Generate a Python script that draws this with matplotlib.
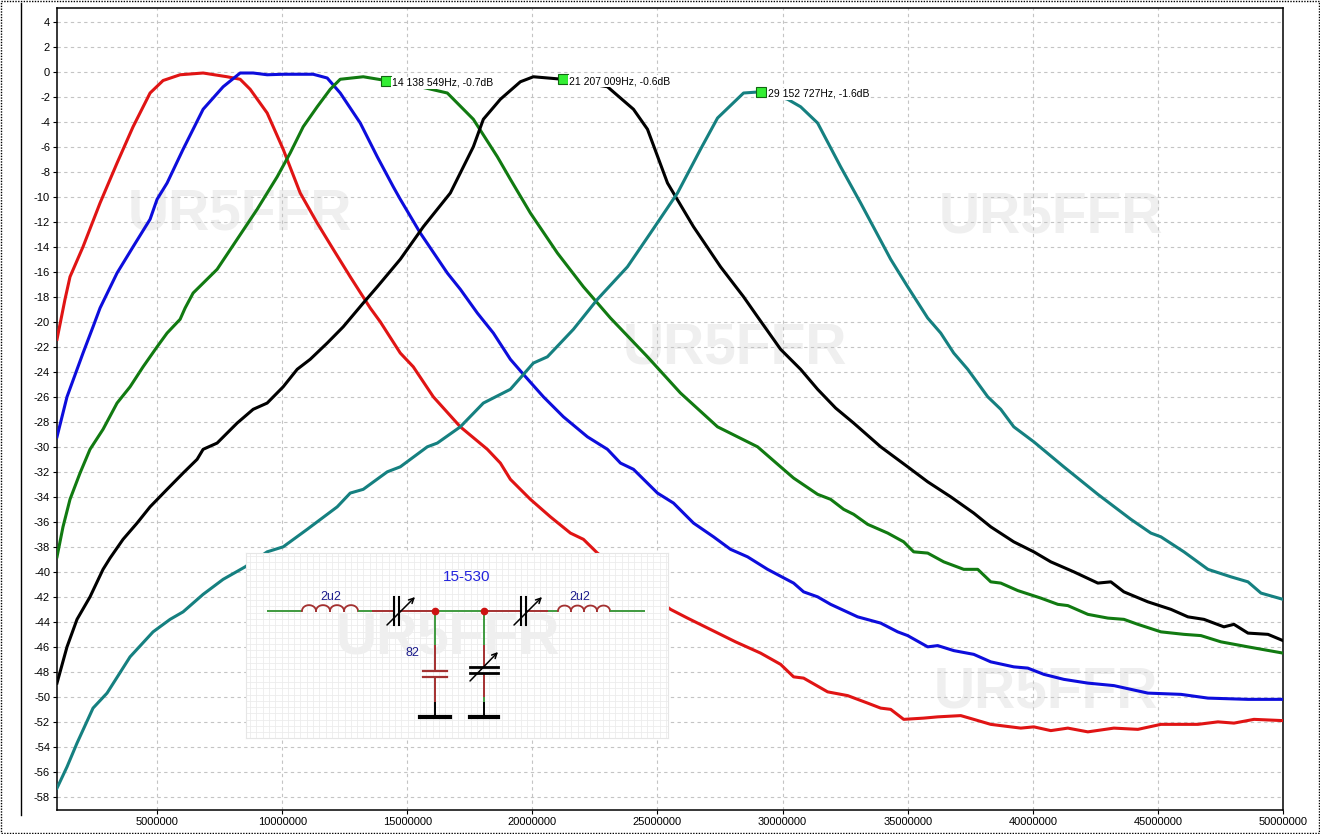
"""
plot.py - five-band tuned filter sweep (15-530 preselector), gain vs frequency,
with marker readouts and the schematic pasted in as an inset.
"""

import numpy as np
import matplotlib
matplotlib.use("Agg")
import matplotlib.pyplot as plt
from matplotlib.lines import Line2D
from matplotlib.patches import Rectangle

# sweep traces: frequency (MHz) / response (dB)
RED_MHZ = [1.0, 1.32, 1.52, 2.04, 2.72, 3.4, 4.04, 4.72, 5.24, 5.92, 6.84, 7.8, 8.32, 8.72,
           9.4, 10.04, 10.72, 11.4, 12.04, 12.72, 13.52, 13.92, 14.72, 15.24, 16.04, 17.12,
           18.2, 18.72, 19.12, 19.92, 20.72, 21.52, 22.04, 22.6, 25.52, 26.2, 28.12, 29.12,
           29.92, 30.44, 30.84, 31.8, 32.6, 33.4, 33.92, 34.32, 34.84, 35.64, 36.2, 37.12,
           37.64, 38.32, 39.52, 40.04, 40.72, 41.4, 42.2, 43.24, 44.2, 45.12, 46.6, 47.4,
           48.04, 48.84, 50.0]
RED_DB = [-21.4, -18.2, -16.4, -14.0, -10.5, -7.3, -4.4, -1.7, -0.7, -0.24, -0.1, -0.4, -0.6,
          -1.4, -3.3, -6.2, -9.7, -12.1, -14.2, -16.4, -18.9, -20.0, -22.5, -23.6, -26.0,
          -28.4, -30.2, -31.3, -32.6, -34.2, -35.6, -36.9, -37.4, -38.5, -43.0, -43.7, -45.6,
          -46.5, -47.4, -48.4, -48.5, -49.6, -49.9, -50.5, -50.9, -51.0, -51.8, -51.7, -51.6,
          -51.5, -51.8, -52.2, -52.5, -52.4, -52.7, -52.5, -52.8, -52.5, -52.6, -52.2, -52.2,
          -52.0, -52.1, -51.8, -51.9]

BLUE_MHZ = [1.0, 1.4, 2.04, 2.44, 2.72, 3.4, 4.04, 4.72, 5.0, 5.4, 6.04, 6.84, 7.64, 8.32,
            8.84, 9.4, 10.04, 11.24, 11.8, 12.32, 13.12, 13.8, 14.44, 14.72, 15.52, 16.6,
            17.12, 17.8, 18.44, 19.12, 19.64, 20.44, 21.24, 22.2, 23.0, 23.52, 24.04, 25.0,
            25.64, 26.44, 27.24, 27.92, 28.6, 29.4, 30.44, 30.84, 31.4, 31.92, 33.0, 33.92,
            34.6, 35.0, 35.8, 36.2, 36.84, 37.64, 38.32, 39.24, 39.8, 40.44, 41.24, 42.2,
            43.24, 44.6, 45.92, 47.0, 48.6, 50.0]
BLUE_DB = [-29.2, -26.0, -22.5, -20.4, -18.9, -16.1, -14.0, -11.8, -10.2, -8.9, -6.2, -3.0,
           -1.2, -0.1, -0.1, -0.24, -0.2, -0.2, -0.5, -1.7, -4.1, -6.8, -9.2, -10.2, -12.9,
           -16.1, -17.4, -19.3, -20.9, -23.0, -24.2, -26.0, -27.6, -29.2, -30.2, -31.3, -31.8,
           -33.7, -34.5, -36.1, -37.2, -38.2, -38.8, -39.8, -40.9, -41.6, -42.0, -42.6, -43.6,
           -44.1, -44.8, -45.1, -46.0, -45.9, -46.3, -46.6, -47.2, -47.6, -47.7, -48.2, -48.6,
           -48.9, -49.1, -49.7, -49.8, -50.1, -50.2, -50.2]

GREEN_MHZ = [1.0, 1.24, 1.52, 1.92, 2.32, 2.84, 3.4, 3.92, 4.44, 5.0, 5.4, 5.92, 6.12, 6.44,
             7.4, 8.2, 9.0, 9.8, 10.32, 10.84, 11.4, 11.92, 12.32, 13.24, 14.14, 15.52, 16.6,
             17.64, 18.6, 19.12, 19.92, 21.0, 22.04, 23.12, 24.6, 25.92, 27.4, 29.0, 29.92,
             30.44, 31.4, 31.92, 32.44, 32.84, 33.4, 34.2, 34.84, 35.24, 35.8, 36.44, 37.24,
             37.8, 38.32, 38.72, 39.4, 40.32, 41.0, 41.4, 42.2, 43.0, 43.64, 44.2, 45.12,
             46.04, 46.72, 47.52, 48.6, 50.0]
GREEN_DB = [-38.8, -36.4, -34.2, -32.1, -30.2, -28.6, -26.5, -25.2, -23.6, -22.0, -20.9, -19.8,
            -18.9, -17.7, -15.8, -13.4, -11.0, -8.4, -6.5, -4.4, -2.8, -1.4, -0.6, -0.4, -0.7,
            -1.2, -1.7, -3.8, -6.8, -8.6, -11.3, -14.5, -17.2, -19.7, -22.8, -25.7, -28.4,
            -30.0, -31.6, -32.5, -33.8, -34.2, -35.0, -35.4, -36.2, -36.9, -37.6, -38.4, -38.5,
            -39.2, -39.8, -39.8, -40.8, -40.9, -41.5, -42.1, -42.6, -42.7, -43.4, -43.7, -43.8,
            -44.2, -44.8, -45.0, -45.1, -45.6, -46.0, -46.5]

BLACK_MHZ = [1.0, 1.4, 1.8, 2.32, 2.84, 3.12, 3.64, 4.2, 4.72, 5.4, 6.04, 6.6, 6.84, 7.4, 8.2,
             8.84, 9.4, 10.04, 10.6, 11.12, 11.8, 12.44, 13.24, 13.8, 14.72, 15.64, 16.72,
             17.64, 18.04, 18.72, 19.52, 20.04, 21.21, 23.0, 24.04, 24.6, 25.4, 26.44, 27.52,
             28.44, 29.0, 29.92, 30.72, 31.4, 32.12, 32.84, 33.92, 35.0, 35.8, 36.72, 37.64,
             38.32, 39.24, 40.04, 40.72, 41.64, 42.6, 43.12, 43.64, 44.6, 45.52, 46.2, 46.84,
             47.64, 48.04, 48.6, 49.4, 50.0]
BLACK_DB = [-48.9, -46.0, -43.8, -42.0, -39.8, -38.9, -37.4, -36.1, -34.8, -33.4, -32.1, -31.0,
            -30.2, -29.7, -28.1, -27.0, -26.5, -25.2, -23.8, -23.0, -21.7, -20.4, -18.5, -17.2,
            -15.0, -12.4, -9.7, -6.0, -3.8, -2.2, -0.8, -0.4, -0.6, -1.2, -3.0, -4.6, -8.9,
            -12.4, -15.6, -18.0, -19.6, -22.2, -23.8, -25.4, -26.9, -28.1, -30.0, -31.6, -32.8,
            -34.0, -35.3, -36.4, -37.6, -38.4, -39.2, -40.0, -40.9, -40.8, -41.6, -42.4, -43.0,
            -43.6, -43.8, -44.4, -44.2, -44.9, -45.0, -45.5]

TEAL_MHZ = [1.0, 1.4, 1.8, 2.44, 3.0, 3.92, 4.84, 5.52, 6.04, 6.84, 7.64, 8.52, 9.4, 10.04,
            11.0, 12.2, 12.72, 13.24, 14.2, 14.72, 15.8, 16.2, 17.12, 18.04, 19.12, 20.04,
            20.6, 21.64, 22.6, 23.8, 24.72, 25.8, 26.72, 27.4, 28.44, 29.15, 30.2, 30.72, 31.4,
            32.32, 33.12, 34.32, 35.0, 35.8, 36.32, 36.84, 37.4, 38.2, 38.72, 39.24, 40.04,
            41.24, 42.6, 43.92, 44.72, 45.12, 46.04, 47.0, 47.92, 48.6, 49.12, 50.0]
TEAL_DB = [-57.3, -55.6, -53.7, -50.9, -49.7, -46.8, -44.8, -43.8, -43.2, -41.8, -40.6, -39.6,
           -38.4, -38.0, -36.6, -34.8, -33.7, -33.4, -32.0, -31.6, -30.0, -29.7, -28.4, -26.5,
           -25.4, -23.3, -22.8, -20.6, -18.2, -15.6, -12.9, -9.7, -6.2, -3.7, -1.7, -1.6, -2.2,
           -2.8, -4.1, -7.6, -10.5, -15.0, -17.2, -19.7, -20.9, -22.5, -23.8, -26.0, -27.0,
           -28.4, -29.6, -31.6, -33.8, -35.8, -36.9, -37.2, -38.4, -39.8, -40.4, -40.8, -41.7,
           -42.2]

# marker readouts
MARK_HZ = [14138549, 21207009, 29152727]
MARK_DB = [-0.7, -0.6, -1.6]

X_TICKS = [5000000, 10000000, 15000000, 20000000, 25000000,
           30000000, 35000000, 40000000, 45000000, 50000000]
Y_TICKS = list(range(-58, 5, 2))

TRACES = [
    (RED_MHZ, RED_DB, "#e01414"),
    (BLUE_MHZ, BLUE_DB, "#0d0ddc"),
    (GREEN_MHZ, GREEN_DB, "#117a11"),
    (BLACK_MHZ, BLACK_DB, "#000000"),
    (TEAL_MHZ, TEAL_DB, "#158080"),
]

WIRE_G = "#3f9a3f"
WIRE_R = "#a33030"
LABEL_C = "#1c1c8c"
WM = "UR5FFR"
WM_C = "#efefef"
FONT = ["Liberation Sans", "DejaVu Sans"]


def inductor(ax, x0, x1, y, n=4):
    w = (x1 - x0) / n
    for i in range(n):
        t = np.linspace(np.pi, 0, 30)
        cx = x0 + w * (i + 0.5)
        ax.plot(cx + w / 2 * np.cos(t), y - w * 0.42 * np.sin(t), color=WIRE_R, lw=1.3)


def wire(ax, xs, ys, c):
    ax.plot(xs, ys, color=c, lw=1.4, solid_capstyle="butt")


def schematic(ax):
    """15-530 filter drawn in pixel-like units of the pasted picture."""
    ax.set_xlim(246, 668)
    ax.set_ylim(738, 553)
    ax.set_facecolor("white")
    for v in np.arange(250, 668, 6.3):
        ax.axvline(v, color="#ececec", lw=0.6, zorder=0)
    for v in np.arange(556, 738, 6.3):
        ax.axhline(v, color="#ececec", lw=0.6, zorder=0)
    ax.set_xticks([])
    ax.set_yticks([])
    for s in ax.spines.values():
        s.set_color("#e6e6e6")

    ax.text(448, 638, WM, color=WM_C, fontsize=41, fontweight="bold", family=FONT,
            ha="center", va="center", zorder=0.5)

    y = 611
    wire(ax, [267, 302], [y, y], WIRE_G)
    inductor(ax, 302, 358, y)
    wire(ax, [358, 372], [y, y], WIRE_G)
    wire(ax, [372, 394], [y, y], WIRE_R)
    wire(ax, [399, 435], [y, y], WIRE_R)
    wire(ax, [435, 484], [y, y], WIRE_G)
    wire(ax, [484, 521], [y, y], WIRE_R)
    wire(ax, [526, 548], [y, y], WIRE_R)
    wire(ax, [548, 558], [y, y], WIRE_G)
    inductor(ax, 558, 610, y)
    wire(ax, [610, 645], [y, y], WIRE_G)

    # series trimmers
    for px in (394, 521):
        for dx in (0, 5):
            ax.plot([px + dx, px + dx], [597, 625], color="black", lw=1.5)
        ax.annotate("", xy=(px + 21, 597), xytext=(px - 7, 625),
                    arrowprops=dict(arrowstyle="->", lw=1.1, color="black",
                                    shrinkA=0, shrinkB=0, mutation_scale=9))

    # shunt 82 pF
    wire(ax, [435, 435], [y, 645], WIRE_G)
    wire(ax, [435, 435], [645, 671], WIRE_R)
    wire(ax, [435, 435], [677, 702], WIRE_R)
    ax.plot([423, 447], [671, 671], color=WIRE_R, lw=1.6)
    ax.plot([423, 447], [677, 677], color=WIRE_R, lw=1.6)
    wire(ax, [435, 435], [702, 717], "black")
    ax.plot([420, 450], [717, 717], color="black", lw=3)

    # shunt trimmer
    wire(ax, [484, 484], [y, 645], WIRE_G)
    wire(ax, [484, 484], [645, 667], WIRE_R)
    wire(ax, [484, 484], [673, 697], WIRE_R)
    wire(ax, [484, 484], [697, 702], WIRE_G)
    ax.plot([470, 498], [667, 667], color="black", lw=2)
    ax.plot([470, 498], [673, 673], color="black", lw=2)
    ax.annotate("", xy=(498, 652), xytext=(470, 681),
                arrowprops=dict(arrowstyle="->", lw=1.1, color="black",
                                shrinkA=0, shrinkB=0, mutation_scale=9))
    wire(ax, [484, 484], [702, 717], "black")
    ax.plot([470, 498], [717, 717], color="black", lw=3)

    ax.plot([435, 484], [y, y], "o", color="#cc1111", ms=4.5, zorder=5)

    ax.text(467, 577, "15-530", color="#2323dd", fontsize=11, ha="center", va="center",
            family=FONT)
    for lx in (331, 580):
        ax.text(lx, 597, "2u2", color=LABEL_C, fontsize=9, ha="center", va="center",
                family=FONT)
    ax.text(412, 653, "82", color=LABEL_C, fontsize=9, ha="center", va="center", family=FONT)


def main():
    fig = plt.figure(figsize=(13.2, 8.34), dpi=100)
    ax = fig.add_axes([57 / 1320, 1 - 810 / 834, 1226 / 1320, 802 / 834])

    ax.set_xlim(1e6, 50e6)
    ax.set_ylim(-59.05, 5.1)
    ax.set_xticks(X_TICKS)
    ax.set_xticklabels([str(t) for t in X_TICKS])
    ax.set_yticks(Y_TICKS)
    ax.set_yticklabels([str(t) for t in Y_TICKS])
    ax.tick_params(labelsize=8, length=3, width=0.8, pad=2)
    for lab in ax.get_xticklabels() + ax.get_yticklabels():
        lab.set_family(FONT)
    ax.set_axisbelow(True)
    ax.grid(True, color="#c4c4c4", lw=0.8, ls=(0, (3, 3)))
    for s in ax.spines.values():
        s.set_linewidth(1.1)

    # watermarks behind the traces (axes fractions)
    for wx, wy in [(0.1493, 0.7419), (0.553, 0.576), (0.8108, 0.7394), (0.8067, 0.1471)]:
        ax.text(wx, wy, WM, transform=ax.transAxes, color=WM_C, fontsize=41,
                fontweight="bold", family=FONT, ha="center", va="center", zorder=0.3)

    for mhz, db, c in TRACES:
        ax.plot(np.array(mhz) * 1e6, db, color=c, lw=2.2, zorder=3)

    for f, d in zip(MARK_HZ, MARK_DB):
        ax.plot(f, d, "s", ms=6.5, mfc="#33ee33", mec="#116611", mew=0.8, zorder=6)
        txt = f"{f:,}".replace(",", " ") + f"Hz, {d:.1f}dB"
        ax.annotate(txt, (f, d), xytext=(4.5, -1.5), textcoords="offset points",
                    fontsize=7.5, family=FONT, va="center", ha="left", zorder=6,
                    bbox=dict(boxstyle="square,pad=0.1", fc="white", ec="none"))

    ins = fig.add_axes([246 / 1320, 1 - 738 / 834, 422 / 1320, 185 / 834])
    ins.set_zorder(5)
    schematic(ins)

    # outer dotted frame and the stray left rule of the screenshot
    fig.add_artist(Rectangle((0.0008, 0.0012), 0.9984, 0.9976, transform=fig.transFigure,
                             fill=False, ls=(0, (1, 1)), lw=1, ec="black"))
    fig.add_artist(Line2D([21 / 1320, 21 / 1320], [1 - 3 / 834, 1 - 815 / 834],
                          transform=fig.transFigure, color="black", lw=1))

    fig.savefig("out.png", dpi=100)


if __name__ == "__main__":
    main()
